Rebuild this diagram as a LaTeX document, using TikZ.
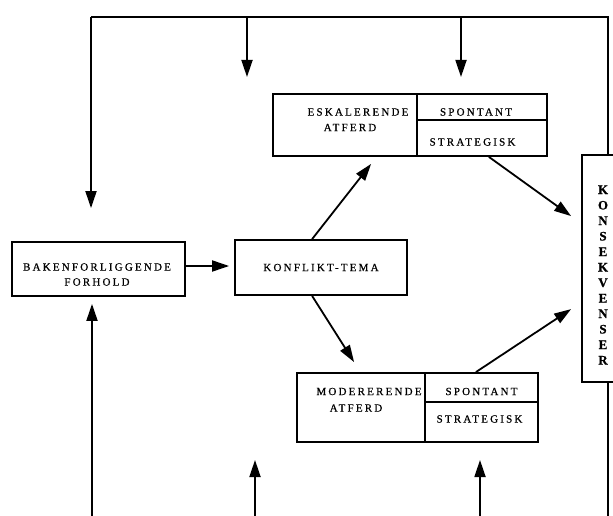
\documentclass[tikz,border=0pt]{standalone}
\usepackage{fontspec}
\setmainfont{Liberation Serif}
\newfontfamily\lblfont{Liberation Serif}[LetterSpace=20,FakeBold=0.6]
\newfontfamily\kfont{Liberation Serif Bold}[FakeBold=0.5]
\usetikzlibrary{arrows.meta,calc}
\begin{document}
\begin{tikzpicture}[x=1bp,y=-1bp,
  line/.style={line width=1.8bp},
  arr/.style={line width=1.8bp,-{Triangle[length=17bp,width=11bp]}},
  box/.style={draw,line width=1.8bp,rectangle,inner sep=0pt},
  lbl/.style={inner sep=0pt,font=\lblfont\fontsize{11bp}{15bp}\selectfont,align=center},
  klbl/.style={inner sep=0pt,font=\kfont\fontsize{13bp}{15.5bp}\selectfont,align=center}]
\useasboundingbox (0,0) rectangle (613,516);

% boxes
\node[box,minimum width=173bp,minimum height=54bp] (bak) at (98.5,269) {};
\node[box,minimum width=172bp,minimum height=55bp,font=\lblfont\fontsize{11bp}{15bp}\selectfont] (kon) at (321,267.5) {KONFLIKT-TEMA};
\node[box,minimum width=274bp,minimum height=62bp] (esk) at (410,125) {};
\node[box,minimum width=241bp,minimum height=69bp] (mod) at (417.5,407.5) {};
\node[box,minimum width=52bp,minimum height=227bp] (kbox) at (608,268.5) {};

% dividers
\draw[line] ([xshift=145bp]esk.north west) -- ([xshift=145bp]esk.south west);
\draw[line] ([xshift=145bp,yshift=-27bp]esk.north west) -- ([yshift=-27bp]esk.north east);
\draw[line] ([xshift=129bp]mod.north west) -- ([xshift=129bp]mod.south west);
\draw[line] ([xshift=129bp,yshift=-30bp]mod.north west) -- ([yshift=-30bp]mod.north east);

% labels
\node[lbl] (bakt) at (97,274.5) {BAKENFORLIGGENDE\\FORHOLD};
\node[lbl] (esk1) at (358,112) {ESKALERENDE};
\node[lbl] (esk2) at (350,127.5) {ATFERD};
\node[lbl] (esk3) at (476,112) {SPONTANT};
\node[lbl] (esk4) at (472.5,142) {STRATEGISK};
\node[lbl] (mod1) at (369,391.5) {MODERERENDE};
\node[lbl] (mod2) at (356,408) {ATFERD};
\node[lbl] (mod3) at (481.5,391.5) {SPONTANT};
\node[lbl] (mod4) at (479.5,419) {STRATEGISK};
\node[klbl] (kt) at (603,275) {K\\O\\N\\S\\E\\K\\V\\E\\N\\S\\E\\R};

% main arrows
\draw[arr] ([yshift=3bp]bak.east) -- ([yshift=1.5bp,xshift=-5bp]kon.west);
\draw[arr] ([xshift=78bp]kon.north west) -- ([xshift=99bp,yshift=-7bp]esk.south west);
\draw[arr] ([xshift=78bp]kon.south west) -- ([xshift=58bp,yshift=10bp]mod.north west);
\draw[arr] ([xshift=-59bp]esk.south east) -- ([xshift=-10bp,yshift=-62bp]kbox.north west);
\draw[arr] ([xshift=-63bp]mod.north east) -- ([xshift=-10bp,yshift=-155bp]kbox.north west);

% feedback loops
\coordinate (tl) at (91,17);
\coordinate (tr) at (608,17);
\coordinate (t1) at (247,17);
\coordinate (t2) at (461,17);
\coordinate (bl) at (92,520);
\coordinate (b1) at (255,520);
\coordinate (b2) at (480,520);
\coordinate (br) at (608,520);
\draw[line] (kbox.north) -- (tr) -- (tl);
\draw[arr] (tl) -- ([yshift=33bp]bak.north -| tl);
\draw[arr] (t1) -- (247,77);
\draw[arr] (t2) -- (461,77);
\draw[arr] (bl) -- ([yshift=-7bp]bak.south -| bl);
\draw[arr] (b1) -- (255,460);
\draw[arr] (b2) -- (480,460);
\draw[line] (kbox.south) -- (br);
\end{tikzpicture}
\end{document}
